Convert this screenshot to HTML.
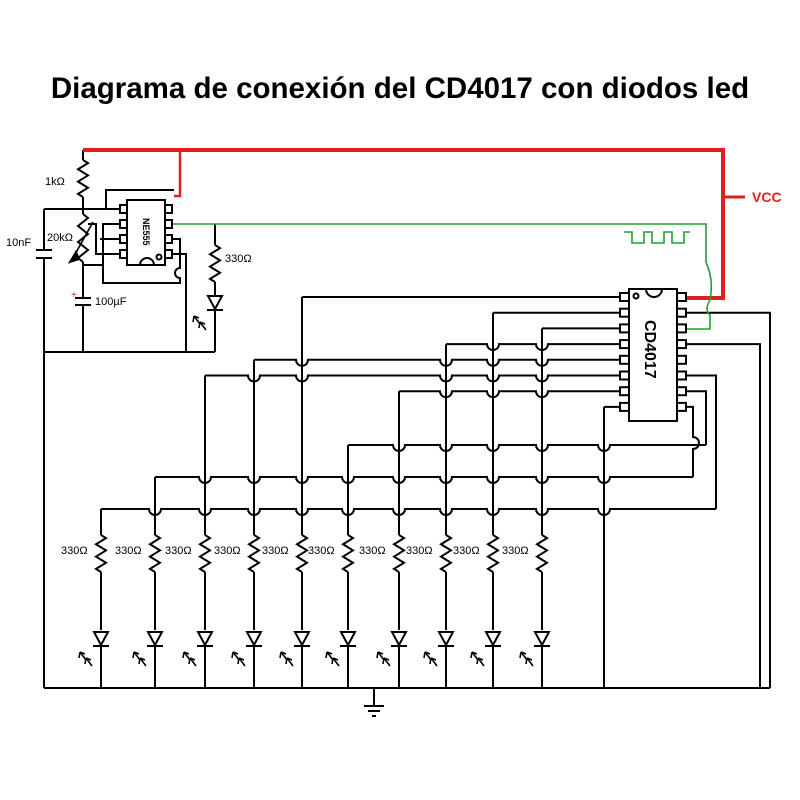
<!DOCTYPE html>
<html><head><meta charset="utf-8"><style>
html,body{margin:0;padding:0;background:#fff;width:800px;height:800px;overflow:hidden}
svg{display:block}
text{font-family:"Liberation Sans",sans-serif}
</style></head><body>
<svg id="s" width="800" height="800" viewBox="0 0 800 800" xmlns="http://www.w3.org/2000/svg">
<rect width="800" height="800" fill="#fff"/>
<text x="400" y="98" text-anchor="middle" font-size="29.5" font-weight="bold" fill="#000">Diagrama de conexión del CD4017 con diodos led</text>
<g id="w" fill="none" stroke="#000" stroke-width="2"></g>
<g fill="none" stroke="#e02020" stroke-width="4">
<path d="M83 150 H723 V298 H686"/>
<path d="M180 150 V196 H174" stroke-width="2.5"/>
<path d="M723 197 H745" stroke-width="3"/>
</g>
<text x="752" y="202" font-size="14" font-weight="bold" fill="#e02020">VCC</text>
<g fill="none" stroke="#20a030" stroke-width="1.6">
<path d="M172 224 H706 V262 Q714 280 710 300 Q704 310 710 315 V329 H686"/>
<path d="M624 232 H632 V243 H644 V232 H652 V243 H664 V232 H672 V243 H684 V232 H690"/>
</g>
<g stroke="#000" stroke-width="2" fill="#fff">
<rect x="127" y="200" width="38" height="65"/>
<rect x="120" y="205" width="7" height="8"/><rect x="120" y="220" width="7" height="8"/><rect x="120" y="235" width="7" height="8"/><rect x="120" y="250" width="7" height="8"/>
<rect x="165" y="205" width="7" height="8"/><rect x="165" y="220" width="7" height="8"/><rect x="165" y="235" width="7" height="8"/><rect x="165" y="250" width="7" height="8"/>
<path d="M140 265 A7 7 0 0 1 154 265" fill="none"/>
<circle cx="159" cy="257" r="2.5" fill="none"/>
</g>
<text transform="translate(143,218) rotate(90)" font-size="9" font-weight="bold">NE555</text>
<g stroke="#000" stroke-width="2" fill="#fff">
<rect x="629" y="289" width="48" height="132"/>
<path d="M646 289 A8 8 0 0 0 662 289" fill="none"/>
<circle cx="636" cy="296" r="2.5" fill="none"/>
</g>
<g id="pins" stroke="#000" stroke-width="2" fill="#fff"></g>
<text transform="translate(645,320) rotate(90)" font-size="16" font-weight="bold">CD4017</text>
<g font-size="11" fill="#000">
<text x="45" y="185">1kΩ</text>
<text x="47" y="241">20kΩ</text>
<text x="6" y="246">10nF</text>
<text x="225" y="262">330Ω</text>
<text x="95" y="305">100µF</text>
</g>
<text x="71" y="298" font-size="10" fill="#e02020">+</text>
<g id="lbl" font-size="11" fill="#000"></g>
</svg>
<script>
var W=document.getElementById('w'),ns='http://www.w3.org/2000/svg';
function P(d,extra){var p=document.createElementNS(ns,'path');p.setAttribute('d',d);if(extra)for(var k in extra)p.setAttribute(k,extra[k]);W.appendChild(p);}
function res(x,y1,y2){var d='M'+x+' '+y1;var n=6,h=(y2-y1)/n;for(var i=0;i<n;i++){d+=' L'+(x+(i%2?-5:5))+' '+(y1+h*(i+0.5));}d+=' L'+x+' '+y2;return d;}
function led(x,y){P('M'+(x-7)+' '+y+' H'+(x+7)+' L'+x+' '+(y+13)+' Z M'+(x-8)+' '+(y+14)+' H'+(x+8));
 var a=x-22,b=y+20;P('M'+(a+7)+' '+(b+8)+' L'+(a+1)+' '+(b)+' M'+(a+1)+' '+b+' L'+a+' '+(b+6)+' M'+(a+1)+' '+b+' L'+(a+6)+' '+(b+2)+' M'+(a+13)+' '+(b+14)+' L'+(a+7)+' '+(b+6)+' M'+(a+7)+' '+(b+6)+' L'+(a+6)+' '+(b+12)+' M'+(a+7)+' '+(b+6)+' L'+(a+12)+' '+(b+8),{'stroke-width':1.6});}
var pg=document.getElementById('pins');
for(var i=0;i<8;i++){var y=297+i*15.7;['620','677'].forEach(function(x){var r=document.createElementNS(ns,'rect');r.setAttribute('x',x);r.setAttribute('y',y-4);r.setAttribute('width',9);r.setAttribute('height',8);pg.appendChild(r);});}
function py(i){return 297+i*15.7;}
var cols=[101,155,205,254,302,348,399,446,493,542];
var cross=[155,205,254,302,348,399,446,493,542,604];
function hline(x1,x2,y,tops){
 var d='M'+x1+' '+y;
 cross.forEach(function(c){if(c>x1+2&&c<x2-2&&tops[c]!==undefined&&tops[c]<y){d+=' H'+(c-6)+' A6 6 0 0 0 '+(c+6)+' '+y;}});
 d+=' H'+x2;P(d);}
var tops={302:py(0),493:py(1),542:py(2),446:py(3),254:py(4),205:py(5),399:py(6),604:py(7),348:445,155:477,101:509};
hline(302,620,py(0),tops);hline(493,620,py(1),tops);hline(542,620,py(2),tops);hline(446,620,py(3),tops);
hline(254,620,py(4),tops);hline(205,620,py(5),tops);hline(399,620,py(6),tops);hline(604,620,py(7),tops);
hline(348,706,445,tops);hline(155,693,477,tops);hline(101,716,509,tops);
cols.forEach(function(x){var t=tops[x];P('M'+x+' '+t+' V535');P(res(x,535,572));P('M'+x+' 572 V630');led(x,632);P('M'+x+' 646 V688');
 var tx=document.createElementNS(ns,'text');tx.setAttribute('x',x-40);tx.setAttribute('y',554);tx.textContent='330Ω';document.getElementById('lbl').appendChild(tx);});
P('M604 '+py(7)+' V688');
P('M686 '+py(1)+' H770 V688');P('M686 '+py(3)+' H760 V688');
P('M686 '+py(5)+' H716 V509');P('M686 '+py(6)+' H706 V445');P('M686 '+py(7)+' H693 V437 A6 6 0 0 1 693 449 V477');
P('M44 688 H770');P('M374 688 V706 M364 706 H384 M368 711 H380 M372 716 H376');
P(res(83,160,197));P('M83 150 V160 M83 197 V209');
P('M44 209 H120');P('M44 209 V250 M36 250 H52 M36 258 H52 M44 258 V688');
P(res(83,214,262));P('M83 209 V214 M83 262 V298');P('M73 258 L93 222',{'stroke-width':1.6});P('M70 262 L76 252 L79 259 Z',{fill:'#000'});
P('M75 298 H91 M75 305 H91',{'stroke-width':2});P('M83 305 V352');P('M44 352 H215');
P('M83 265 H103 V224 H120');P('M103 265 V228');
P('M100 239 H120');P('M88 224 H96 V254 H120');
P('M106 209 V190 H174');
P('M103 265 V283 H180 V278 A5 5 0 0 1 180 268 V239 H172');
P('M172 254 H186 V352');
P('M215 224 V245');P(res(215,245,282));P('M215 282 V296');led(215,296);P('M215 310 V352');
</script>
</body></html>
